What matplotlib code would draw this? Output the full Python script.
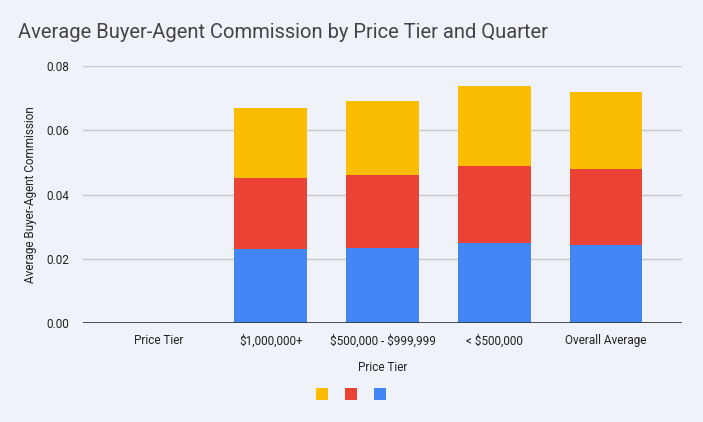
import matplotlib.pyplot as plt
from matplotlib.patches import Patch
import numpy as np

plt.rcParams['font.family'] = ['Roboto', 'DejaVu Sans']
plt.rcParams['text.parse_math'] = False

# 数据
tiers = ['Price Tier', '$1,000,000+', '$500,000 - $999,999', '< $500,000', 'Overall Average']
series_blue = [0, 0.0230, 0.0233, 0.0248, 0.0242]
series_red = [0, 0.0222, 0.0227, 0.0240, 0.0236]
series_yellow = [0, 0.0217, 0.0231, 0.0249, 0.0241]
yticks = [0.00, 0.02, 0.04, 0.06, 0.08]

bg = '#eff2f8'
c_blue = '#4285f4'
c_red = '#ea4335'
c_yellow = '#fbbc04'

fig = plt.figure(figsize=(7.03, 4.22), dpi=100, facecolor=bg)
ax = fig.add_axes([83 / 703, 1 - 323 / 422, 599 / 703, 257 / 422], facecolor=bg)

x = np.arange(len(tiers))
w = 0.65
b1 = np.array(series_blue)
b2 = b1 + np.array(series_red)
ax.bar(x, series_blue, w, color=c_blue, zorder=3)
ax.bar(x, series_red, w, bottom=b1, color=c_red, zorder=3)
ax.bar(x, series_yellow, w, bottom=b2, color=c_yellow, zorder=3)

ax.set_xlim(-0.68, 4.68)
ax.set_ylim(0, 0.08)
ax.set_yticks(yticks)
ax.set_yticklabels(['%.2f' % t for t in yticks])
ax.set_xticks(x)
ax.set_xticklabels(tiers)
ax.grid(axis='y', color='#c8c8c8', linewidth=1, zorder=0)
ax.axhline(0, color='#333333', linewidth=1.2, zorder=4)
for s in ax.spines.values():
    s.set_visible(False)
ax.tick_params(axis='both', length=0, labelsize=8.5, colors='#222222')
ax.tick_params(axis='x', pad=8)
ax.tick_params(axis='y', pad=10)

ax.set_xlabel('Price Tier', fontsize=8.5, color='#222222', labelpad=10)
ax.set_ylabel('Average Buyer-Agent Commission', fontsize=8.5, color='#222222', labelpad=7)

fig.text(18 / 703, 1 - 33 / 422, 'Average Buyer-Agent Commission by Price Tier and Quarter',
         fontsize=14.5, color='#444444', va='center', ha='left')

handles = [Patch(facecolor=c, edgecolor='none') for c in (c_yellow, c_red, c_blue)]
fig.legend(handles, ['', '', ''], ncol=3, loc='center', bbox_to_anchor=(351 / 703, 1 - 395 / 422),
           frameon=False, handlelength=0.9, handleheight=0.9, handletextpad=0, columnspacing=1.2)

fig.savefig('out.png', dpi=100, facecolor=bg)
